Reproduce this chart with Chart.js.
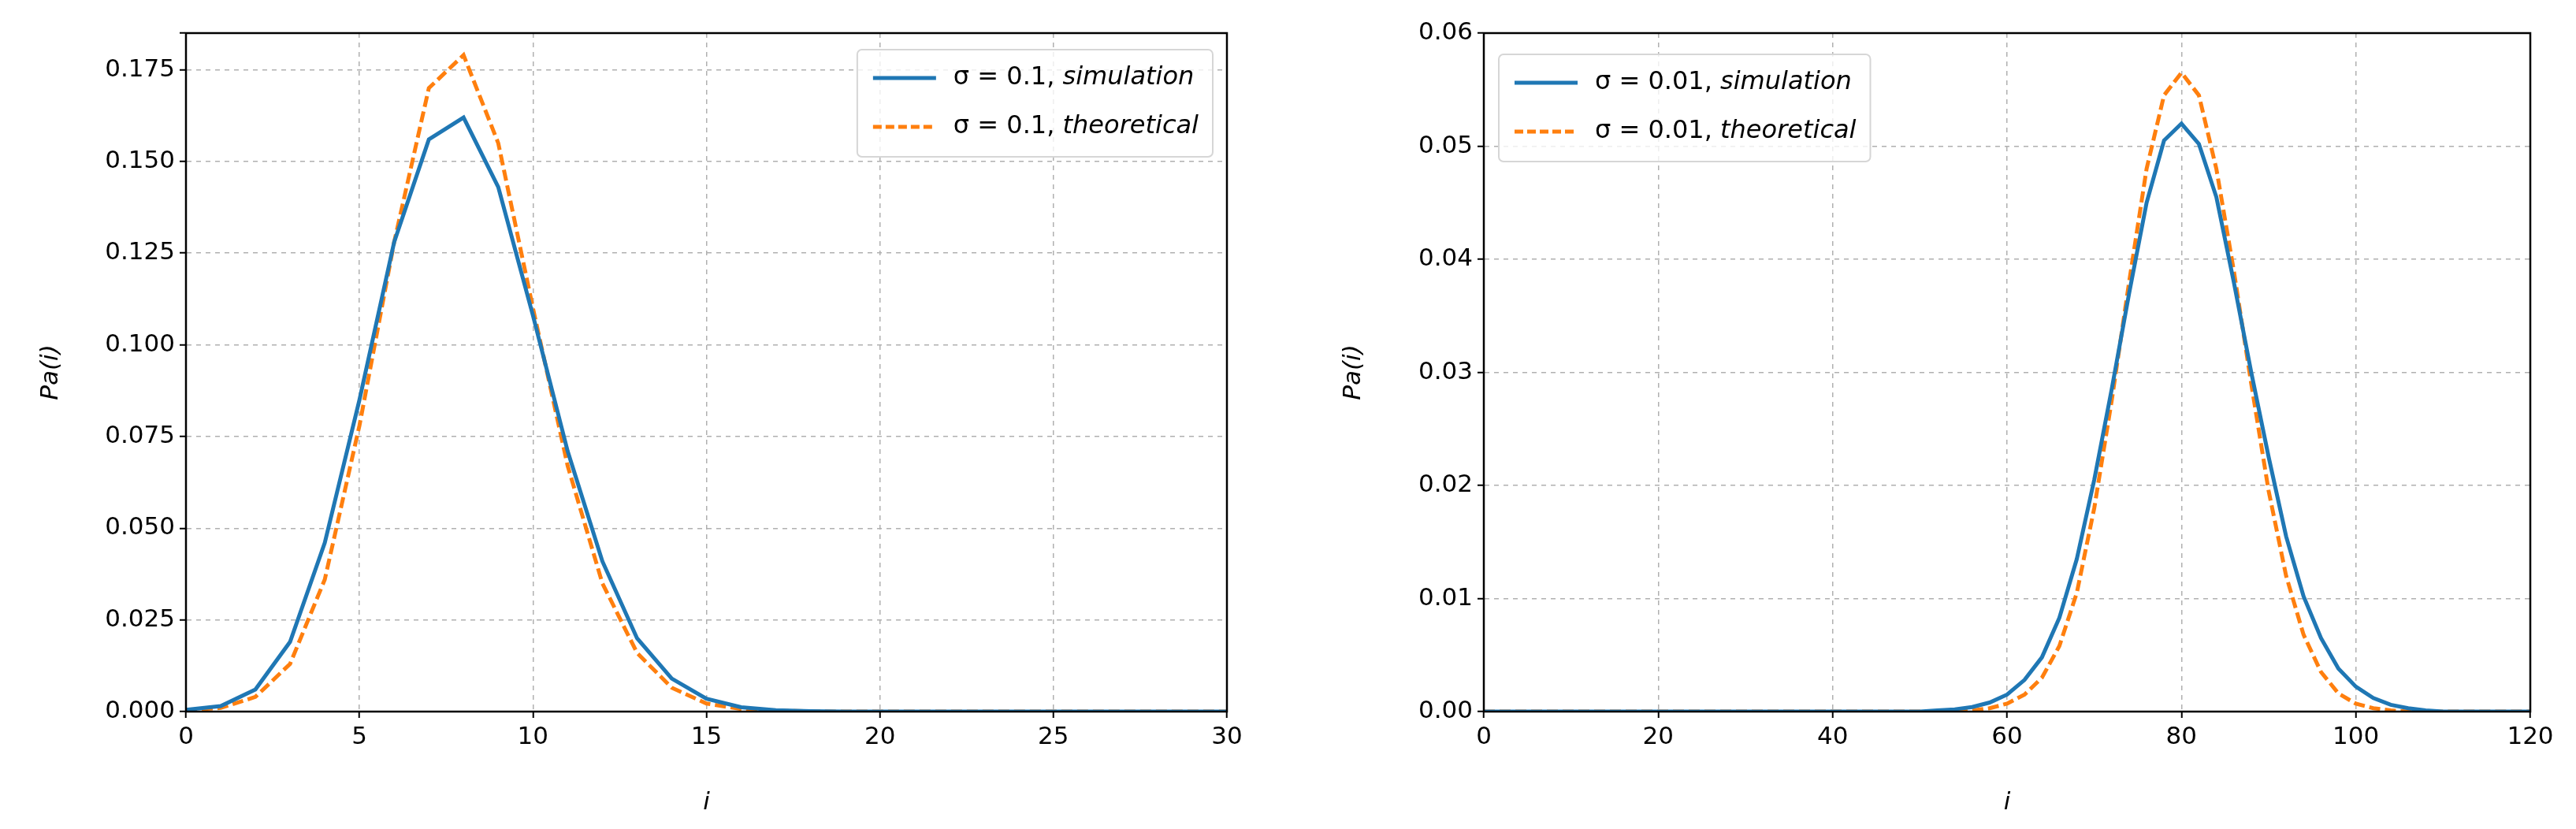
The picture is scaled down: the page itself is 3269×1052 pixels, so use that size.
<!DOCTYPE html>
<html><head><meta charset="utf-8">
<script src="https://cdn.jsdelivr.net/npm/chart.js@4"></script>
<style>
html,body{margin:0;padding:0;background:#fff;}
#wrap{position:relative;width:3269px;height:1052px;}
.c{position:absolute;top:0;height:1052px;}
</style></head><body>
<div id="wrap">
<div class="c" style="left:0;width:1635px"><canvas id="c1"></canvas></div>
<div class="c" style="left:1635px;width:1634px"><canvas id="c2"></canvas></div>
</div>
<script>
// Left panel (sigma = 0.1), i = 0..30
const iLeft = [0,1,2,3,4,5,6,7,8,9,10,11,12,13,14,15,16,17,18,19,20,21,22,23,24,25,26,27,28,29,30];
const simLeft = [0.0005,0.0015,0.006,0.019,0.046,0.085,0.128,0.156,0.162,0.143,0.108,0.071,0.041,0.020,0.009,0.0035,0.0012,0.0004,0.0001,0,0,0,0,0,0,0,0,0,0,0,0];
const theoLeft = [0.0003,0.001,0.004,0.013,0.036,0.078,0.128,0.170,0.179,0.155,0.110,0.067,0.035,0.016,0.0065,0.0022,0.0007,0.0002,0.0001,0,0,0,0,0,0,0,0,0,0,0,0];
// Right panel (sigma = 0.01), i = 0..120 step 2
const iRight = [0,2,4,6,8,10,12,14,16,18,20,22,24,26,28,30,32,34,36,38,40,42,44,46,48,50,52,54,56,58,60,62,64,66,68,70,72,74,76,78,80,82,84,86,88,90,92,94,96,98,100,102,104,106,108,110,112,114,116,118,120];
const simRight = [0,0,0,0,0,0,0,0,0,0,0,0,0,0,0,0,0,0,0,0,0,0,0,0,0,0,0.0001,0.0002,0.0004,0.0008,0.0015,0.0028,0.0048,0.0083,0.0135,0.0205,0.0285,0.037,0.045,0.0505,0.052,0.0502,0.0455,0.038,0.030,0.0225,0.0155,0.0102,0.0065,0.0038,0.0022,0.0012,0.0006,0.0003,0.0001,0,0,0,0,0,0];
const theoRight = [0,0,0,0,0,0,0,0,0,0,0,0,0,0,0,0,0,0,0,0,0,0,0,0,0,0,0,0,0.0001,0.0003,0.0007,0.0015,0.003,0.0058,0.0105,0.018,0.0275,0.038,0.048,0.0545,0.0565,0.0545,0.048,0.039,0.029,0.0195,0.012,0.0068,0.0035,0.0016,0.0007,0.0003,0.0001,0,0,0,0,0,0,0,0];
const labelsLeft = ['0.1','simulation','theoretical'];
const labelsRight = ['0.01','simulation','theoretical'];

const FONT = 'DejaVu Sans';
const BLUE = '#1f77b4', ORANGE = '#ff7f0e';

function pts(xs, ys){ return xs.map((x,k)=>({x:x,y:ys[k]})); }

function legendPlugin(sig, align){
  return {id:'mylegend', afterDraw(chart){
    const ctx = chart.ctx, a = chart.chartArea;
    const fs = 32;
    const items = [[BLUE,[],[sig[0],sig[1]]],[ORANGE,[11,5],[sig[0],sig[2]]]];
    ctx.save();
    const measure = (it)=>{ ctx.font = fs+'px '+FONT; const w1 = ctx.measureText('σ = '+it[2][0]+', ').width;
      ctx.font = 'italic '+fs+'px '+FONT; return w1 + ctx.measureText(it[2][1]).width; };
    const tw = Math.max(...items.map(measure));
    const w = 20 + 80 + 22 + tw + 18, h = 136;
    const x0 = align==='right' ? a.right - 18 - w : a.left + 19;
    const y0 = a.top + (align==='right'?21:27);
    ctx.fillStyle='rgba(255,255,255,0.8)'; ctx.strokeStyle='#d6d6d6'; ctx.lineWidth=2;
    ctx.beginPath(); ctx.roundRect(x0,y0,w,h,6); ctx.fill(); ctx.stroke();
    items.forEach((it,k)=>{
      const yy = y0 + 36 + k*62;
      ctx.strokeStyle=it[0]; ctx.lineWidth=5; ctx.setLineDash(it[1]);
      ctx.beginPath(); ctx.moveTo(x0+20,yy); ctx.lineTo(x0+100,yy); ctx.stroke(); ctx.setLineDash([]);
      ctx.fillStyle='#000'; ctx.textBaseline='middle';
      let tx = x0+122;
      ctx.font = fs+'px '+FONT; const s = 'σ = '+it[2][0]+', '; ctx.fillText(s,tx,yy); tx += ctx.measureText(s).width;
      ctx.font = 'italic '+fs+'px '+FONT; ctx.fillText(it[2][1],tx,yy);
    });
    ctx.restore();
  }};
}

function make(id, xs, s1, s2, xmax, xstep, ymax, ystep, dec, padL, yw, padR, lab, align){
  return new Chart(document.getElementById(id), {
    type:'line',
    data:{datasets:[
      {data:pts(xs,s1), borderColor:BLUE, borderWidth:5, pointRadius:0, tension:0},
      {data:pts(xs,s2), borderColor:ORANGE, borderWidth:5, borderDash:[14,6], pointRadius:0, tension:0}
    ]},
    options:{
      responsive:true, maintainAspectRatio:false, animation:false,
      layout:{padding:{left:padL,right:padR,top:42,bottom:10}},
      plugins:{legend:{display:false}, tooltip:{enabled:false}},
      scales:{
        x:{type:'linear', min:0, max:xmax,
          ticks:{stepSize:xstep, color:'#000', font:{family:FONT,size:31}, padding:6, maxRotation:0},
          grid:{color:'#b0b0b0', lineWidth:1.5, tickLength:8, tickColor:'#000', tickWidth:2},
          border:{color:'#000', width:2, dash:[6,6]},
          title:{display:true, text:'i', color:'#000', font:{family:FONT,size:31,style:'italic'}, padding:{top:4}},
          afterFit(s){ s.height = 139; }
        },
        y:{min:0, max:ymax,
          ticks:{stepSize:ystep, color:'#000', font:{family:FONT,size:31}, padding:6,
            callback:v=>{ const r=v/ystep; return Math.abs(r-Math.round(r))<1e-6 ? v.toFixed(dec) : ''; }},
          grid:{color:'#b0b0b0', lineWidth:1.5, tickLength:8, tickColor:'#000', tickWidth:2},
          border:{color:'#000', width:2, dash:[6,6]},
          title:{display:true, text:'Pa(i)', color:'#000', font:{family:FONT,size:31,style:'italic'}},
          afterFit(s){ s.width = yw; }
        }
      }
    },
    plugins:[{id:'frame', afterDatasetsDraw(c){ const a=c.chartArea, x=c.ctx; x.save(); x.strokeStyle='#000'; x.lineWidth=2.5; x.setLineDash([]); x.strokeRect(a.left,a.top,a.right-a.left,a.bottom-a.top); x.restore(); }},
      legendPlugin(lab, align)]
  });
}
make('c1', iLeft, simLeft, theoLeft, 30, 5, 0.185, 0.025, 3, 42, 194, 78, labelsLeft, 'right');
make('c2', iRight, simRight, theoRight, 120, 20, 0.06, 0.01, 2, 60, 188, 58, labelsRight, 'left');
</script>
</body></html>
